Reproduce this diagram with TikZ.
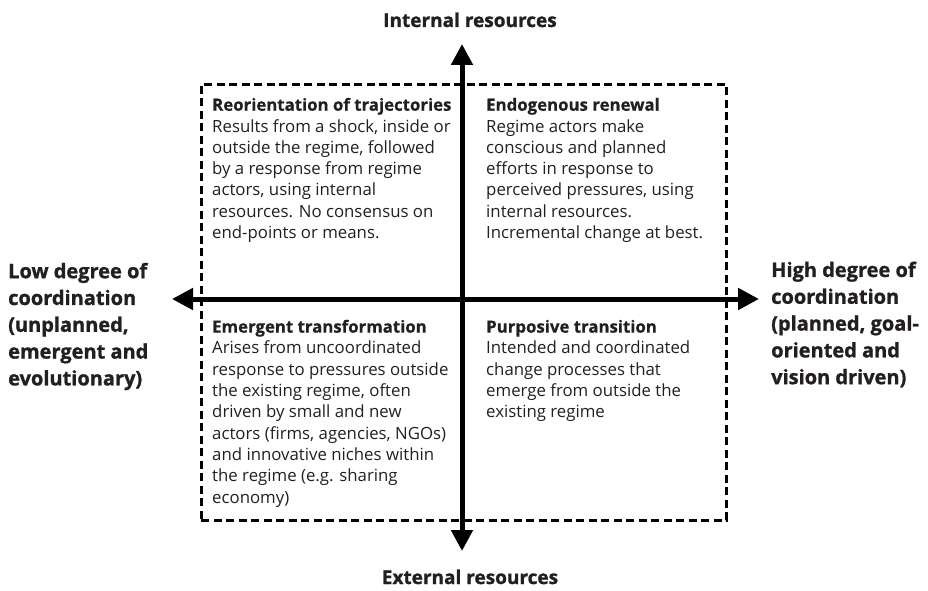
\documentclass[tikz,border=0pt]{standalone}
\usepackage{fontspec}
\setmainfont{Open Sans}
\newfontfamily\heavy{Open Sans}[BoldFeatures={FakeBold=1.2}]
\newfontfamily\semiheavy{Open Sans}[BoldFeatures={FakeBold=0.6}]
\usetikzlibrary{arrows.meta}
\definecolor{ink}{HTML}{231F20}
\newcommand{\ttl}[1]{{\semiheavy\bfseries #1}}
\tikzset{
  body/.style={anchor=north west, inner sep=0pt, align=left, text=ink,
    font=\fontsize{16.8}{21.3}\selectfont},
  side/.style={anchor=north west, inner sep=0pt, align=left, text=ink,
    font=\heavy\bfseries\fontsize{20}{26.8}\selectfont},
  axislabel/.style={anchor=base, inner sep=0pt, text=ink,
    font=\heavy\bfseries\fontsize{19}{26.8}\selectfont},
  axis/.style={line width=5pt, draw=black,
    {Triangle[length=21pt,width=21pt]}-{Triangle[length=21pt,width=21pt]}},
  frame/.style={draw=black, line width=2.6pt, dash pattern=on 8pt off 4.5pt,
    anchor=north west, inner sep=0pt, minimum width=525pt, minimum height=436pt}
}
\begin{document}
\begin{tikzpicture}[x=1pt,y=-1pt]
\useasboundingbox (0,0) rectangle (928,591);
\node[frame] (box) at (200,83) {};
\coordinate (ntop) at (462,44);
\coordinate (nbot) at (462,551);
\coordinate (wleft) at (172,299);
\coordinate (eright) at (759,299);
\draw[axis] (nbot) -- (ntop);
\draw[axis] (wleft) -- (eright);

\node[body] (tl) at (212,95.6) {\strut\ttl{Reorientation of trajectories}\\
Results from a shock, inside or\\
outside the regime, followed\\
by a response from regime\\
actors, using internal\\
resources. No consensus on\\
end-points or means.};

\node[body] (tr) at (486,95.6) {\strut\ttl{Endogenous renewal}\\
Regime actors make\\
conscious and planned\\
efforts in response to\\
perceived pressures, using\\
internal resources.\\
Incremental change at best.};

\node[body] (bl) at (212,317.5) {\strut\ttl{Emergent transformation}\\
Arises from uncoordinated\\
response to pressures outside\\
the existing regime, often\\
driven by small and new\\
actors (firms, agencies, NGOs)\\
and innovative niches within\\
the regime (e.g. sharing\\
economy)};

\node[body] (br) at (486,317.5) {\strut\ttl{Purposive transition}\\
Intended and coordinated\\
change processes that\\
emerge from outside the\\
existing regime};

\node[side] (lowlab) at (8,259.2) {\strut Low degree of\\
coordination\\
(unplanned,\\
emergent and\\
evolutionary)};

\node[side] (highlab) at (771,258) {\strut High degree of\\
coordination\\
(planned, goal-\\
oriented and\\
vision driven)};

\node[axislabel] (intlab) at (470,27) {Internal resources};
\node[axislabel] (extlab) at (470,584) {External resources};
\end{tikzpicture}
\end{document}
